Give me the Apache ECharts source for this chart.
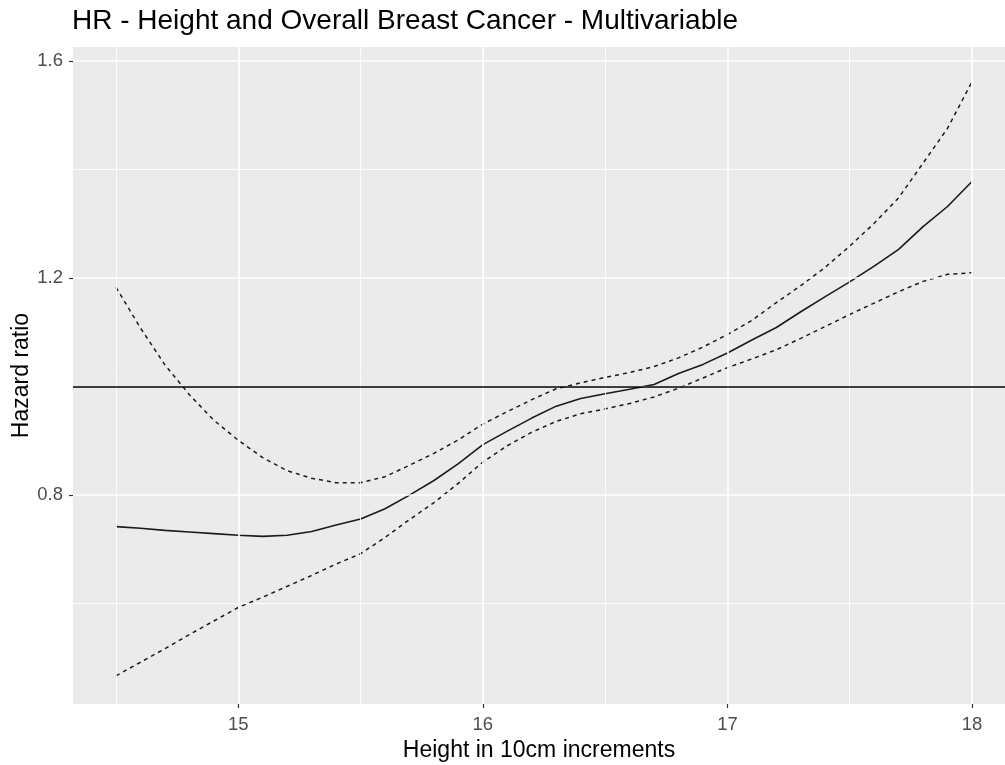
<!DOCTYPE html>
<html>
<head>
<meta charset="utf-8">
<script src="https://cdn.jsdelivr.net/npm/echarts@6/dist/echarts.min.js"></script>
<style>
html,body{margin:0;padding:0;background:#fff;}
#chart{width:1005px;height:765px;}
</style>
</head>
<body>
<div id="chart"></div>
<script>
// Data
const heights = [14.5,14.6,14.7,14.8,14.9,15.0,15.1,15.2,15.3,15.4,15.5,15.6,15.7,15.8,15.9,16.0,16.1,16.2,16.3,16.4,16.5,16.6,16.7,16.8,16.9,17.0,17.1,17.2,17.3,17.4,17.5,17.6,17.7,17.8,17.9,18.0];
const hr = [0.742,0.739,0.735,0.732,0.729,0.726,0.724,0.726,0.733,0.745,0.756,0.775,0.800,0.827,0.858,0.893,0.918,0.942,0.964,0.978,0.987,0.995,1.004,1.024,1.041,1.062,1.086,1.109,1.138,1.166,1.193,1.222,1.253,1.295,1.332,1.378];
const upper = [1.183,1.108,1.040,0.985,0.938,0.901,0.869,0.845,0.831,0.823,0.823,0.834,0.855,0.877,0.902,0.931,0.954,0.976,0.996,1.007,1.017,1.026,1.037,1.053,1.073,1.096,1.122,1.155,1.186,1.220,1.259,1.301,1.348,1.412,1.476,1.562];
const lower = [0.467,0.492,0.517,0.543,0.568,0.593,0.612,0.632,0.652,0.673,0.692,0.722,0.755,0.786,0.822,0.861,0.891,0.916,0.936,0.950,0.959,0.969,0.981,0.997,1.016,1.035,1.051,1.068,1.089,1.111,1.133,1.154,1.175,1.194,1.207,1.210];
const xMajorTicks = [15,16,17,18];
const xMinorTicks = [14.5,15.5,16.5,17.5];
const yMajorTicks = [0.8,1.2,1.6];
const yMinorTicks = [0.6,1.0,1.4];
const refLine = 1.0;

const pair = (ys) => heights.map((h,i)=>[h, ys[i]]);
const FONT = 'Liberation Sans, Arial, sans-serif';

const gridLines = [];
xMinorTicks.forEach(v=>gridLines.push({xAxis:v, lineStyle:{color:'#ffffff', width:0.9, type:'solid'}}));
yMinorTicks.forEach(v=>gridLines.push({yAxis:v, lineStyle:{color:'#ffffff', width:0.9, type:'solid'}}));
xMajorTicks.forEach(v=>gridLines.push({xAxis:v, lineStyle:{color:'#ffffff', width:1.7, type:'solid'}}));
yMajorTicks.forEach(v=>gridLines.push({yAxis:v, lineStyle:{color:'#ffffff', width:1.7, type:'solid'}}));

const chart = echarts.init(document.getElementById('chart'), null, {renderer:'canvas'});
chart.setOption({
  animation:false,
  backgroundColor:'#ffffff',
  title:{
    text:'HR - Height and Overall Breast Cancer - Multivariable',
    left:72, top:7, padding:0,
    textStyle:{fontFamily:FONT, fontSize:28, fontWeight:'normal', color:'#000000'}
  },
  grid:{left:73, right:0, top:47, bottom:61, show:true, backgroundColor:'#EBEBEB', borderWidth:0, containLabel:false, outerBoundsMode:'none'},
  xAxis:{
    type:'value', min:14.324, max:18.135,
    name:'Height in 10cm increments', nameLocation:'middle', nameGap:35, nameMoveOverlap:false,
    nameTextStyle:{fontFamily:FONT, fontSize:23, color:'#000000'},
    axisLine:{show:false},
    axisTick:{show:true, length:4, customValues:xMajorTicks, lineStyle:{color:'#333333', width:1.2}},
    axisLabel:{customValues:xMajorTicks, margin:11, fontFamily:FONT, fontSize:18.5, color:'#4D4D4D'},
    splitLine:{show:false}
  },
  yAxis:{
    type:'value', min:0.415, max:1.626,
    name:'Hazard ratio', nameLocation:'middle', nameGap:40, nameRotate:90, nameMoveOverlap:false,
    nameTextStyle:{fontFamily:FONT, fontSize:23, color:'#000000'},
    axisLine:{show:false},
    axisTick:{show:true, length:4, customValues:yMajorTicks, lineStyle:{color:'#333333', width:1.2}},
    axisLabel:{customValues:yMajorTicks, margin:10, fontFamily:FONT, fontSize:18.5, color:'#4D4D4D', formatter:(v)=>v.toFixed(1)},
    splitLine:{show:false}
  },
  series:[
    {
      type:'line', data:[], z:1, silent:true,
      markLine:{silent:true, symbol:['none','none'], label:{show:false}, animation:false, data:gridLines}
    },
    {
      type:'line', data:pair(upper), z:3, showSymbol:false, symbol:'none', smooth:false,
      lineStyle:{color:'#1a1a1a', width:1.5, type:[4,4]}
    },
    {
      type:'line', data:pair(lower), z:3, showSymbol:false, symbol:'none', smooth:false,
      lineStyle:{color:'#1a1a1a', width:1.5, type:[4,4]}
    },
    {
      type:'line', data:pair(hr), z:4, showSymbol:false, symbol:'none', smooth:false,
      lineStyle:{color:'#1a1a1a', width:1.6, type:'solid'},
      markLine:{silent:true, symbol:['none','none'], label:{show:false}, animation:false,
        data:[{yAxis:refLine, lineStyle:{color:'#000000', width:1.6, type:'solid'}}]}
    }
  ]
});
</script>
</body>
</html>
